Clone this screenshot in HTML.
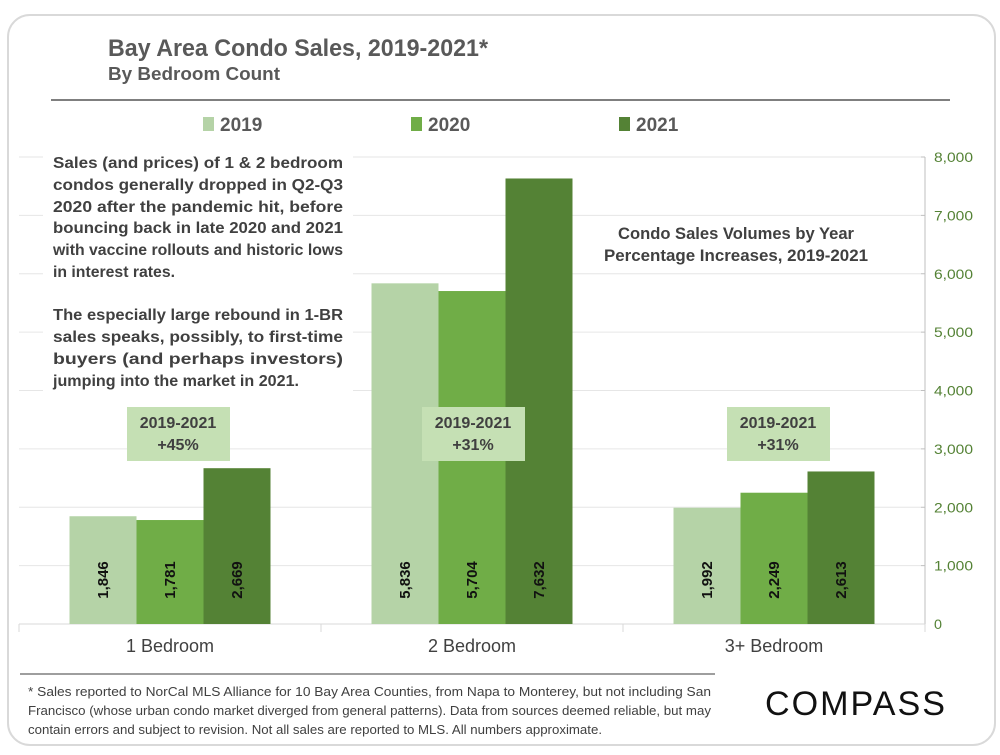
<!DOCTYPE html>
<html><head><meta charset="utf-8"><style>
body{margin:0;background:#fff;width:1000px;height:750px;overflow:hidden;font-family:"Liberation Sans",sans-serif}
</style></head><body>
<svg id="chart" width="1000" height="750" xmlns="http://www.w3.org/2000/svg" font-family="Liberation Sans, sans-serif">
<rect x="8" y="15" width="987" height="730" rx="22" fill="#fff" stroke="#d9d9d9" stroke-width="2"/>
<text x="108" y="56" font-size="24" font-weight="bold" fill="#595959" textLength="380" lengthAdjust="spacingAndGlyphs">Bay Area Condo Sales, 2019-2021*</text>
<text x="108" y="80" font-size="18" font-weight="bold" fill="#595959" textLength="172" lengthAdjust="spacingAndGlyphs">By Bedroom Count</text>
<line x1="51" y1="100" x2="950" y2="100" stroke="#7f7f7f" stroke-width="2"/>
<g id="legend"></g>
<g id="grid"></g>
<rect x="43" y="152" width="310" height="240" fill="#fff"/>
<g id="bars"></g>
<g id="notes" font-weight="bold" fill="#404040" font-size="16"></g>
<g id="boxes"></g>
<text x="736" y="239" font-size="17" font-weight="bold" fill="#404040" text-anchor="middle" textLength="236" lengthAdjust="spacingAndGlyphs">Condo Sales Volumes by Year</text>
<text x="736" y="261" font-size="17" font-weight="bold" fill="#404040" text-anchor="middle" textLength="264" lengthAdjust="spacingAndGlyphs">Percentage Increases, 2019-2021</text>
<line x1="20" y1="674" x2="715" y2="674" stroke="#7f7f7f" stroke-width="1.5"/>
<g font-size="13" fill="#404040">
<text x="28" y="696" textLength="683" lengthAdjust="spacingAndGlyphs">* Sales reported to NorCal MLS Alliance for 10 Bay Area Counties, from Napa to Monterey, but not including San</text>
<text x="28" y="715" textLength="683" lengthAdjust="spacingAndGlyphs">Francisco (whose urban condo market diverged from general patterns). Data from sources deemed reliable, but may</text>
<text x="28" y="734" textLength="574" lengthAdjust="spacingAndGlyphs">contain errors and subject to revision.  Not all sales are reported to MLS. All numbers approximate.</text>
</g>
<text x="765" y="715" font-size="34" fill="#111" textLength="182" lengthAdjust="spacingAndGlyphs" letter-spacing="2">COMPASS</text>
</svg>
<script>
const categories=["1 Bedroom","2 Bedroom","3+ Bedroom"];
const seriesNames=["2019","2020","2021"];
const values2019=[1846,5836,1992];
const values2020=[1781,5704,2249];
const values2021=[2669,7632,2613];
const increaseLabels=["+45%","+31%","+31%"];
const yTicks=[0,1000,2000,3000,4000,5000,6000,7000,8000];
const colors=["#b5d3a7","#70ad47","#548235"];
const NS="http://www.w3.org/2000/svg";
const svg=document.getElementById('chart');
const X0=19,X1=925,Y0=624,Y8=157,YMAX=8000;
const yS=v=>Y0-(v/YMAX)*(Y0-Y8);
const catW=(X1-X0)/categories.length;
const catC=i=>X0+catW*(i+0.5);
const barW=67;
function mk(tag,attrs,parent){const e=document.createElementNS(NS,tag);for(const k in attrs)e.setAttribute(k,attrs[k]);(parent||svg).appendChild(e);return e;}
const grid=document.getElementById('grid');
yTicks.forEach(t=>{
  if(t>0){const g=mk('line',{x1:X0,x2:X1-4,y1:yS(t),y2:yS(t),stroke:'#e6e6e6','stroke-width':1},grid);
  
  }
  const tk=mk('line',{x1:X1-4,x2:X1,y1:yS(t),y2:yS(t),stroke:'#bfbfbf'},grid);
  
  
  const lb=mk('text',{x:X1+9,y:yS(t)+5,'font-size':14,fill:'#548235',textLength:t>0?39:8,lengthAdjust:'spacingAndGlyphs'},grid);
  
  
  lb.textContent=t.toLocaleString('en-US');
});
const ax=mk('line',{x1:X1,x2:X1,y1:Y8,y2:Y0,stroke:'#bfbfbf'},grid);


const xa=mk('line',{x1:X0,x2:X1,y1:Y0,y2:Y0,stroke:'#d9d9d9'},grid);


for(let i=0;i<=categories.length;i++){
  const s=mk('line',{x1:X0+catW*i,x2:X0+catW*i,y1:Y0,y2:Y0+8,stroke:'#d9d9d9'},grid);
  
  
}
const bars=document.getElementById('bars');
const all=[values2019,values2020,values2021];
categories.forEach((c,i)=>{
  all.forEach((vals,s)=>{
    const x=catC(i)+(s-1.5)*barW;
    const r=mk('rect',{x:x,y:yS(vals[i]),width:barW,height:Y0-yS(vals[i]),fill:colors[s]},bars);
    
    
    const t=mk('text',{x:0,y:0,'font-size':15,'font-weight':'bold',fill:'#111','text-anchor':'middle',transform:`translate(${x+barW/2+5},580) rotate(-90)`},bars);
    
    
    t.textContent=vals[i].toLocaleString('en-US');
  });
  const cl=mk('text',{x:catC(i),y:652,'font-size':18,fill:'#404040','text-anchor':'middle'},bars);
  
  
  cl.textContent=c;
});
const boxes=document.getElementById('boxes');
categories.forEach((c,i)=>{
  const bx=[178,473,778][i];
  const r=mk('rect',{x:bx-51,y:407,width:103,height:54,fill:'#c5e0b4'},boxes);
  
  
  const t1=mk('text',{x:bx,y:428,'font-size':16,'font-weight':'bold',fill:'#404040','text-anchor':'middle'},boxes);
  
  
  t1.textContent='2019-2021';
  const t2=mk('text',{x:bx,y:450,'font-size':16,'font-weight':'bold',fill:'#404040','text-anchor':'middle'},boxes);
  
  
  t2.textContent=increaseLabels[i];
});
const legend=document.getElementById('legend');
[203,411,619].forEach((lx,s)=>{
  const r=mk('rect',{x:lx,y:117,width:11,height:14,fill:colors[s]},legend);
  
  
  const t=mk('text',{x:lx+17,y:131,'font-size':19,'font-weight':'bold',fill:'#595959'},legend);
  
  
  t.textContent=seriesNames[s];
});
const notes=document.getElementById('notes');
const lines=[["Sales (and prices) of 1 & 2 bedroom",168,290],["condos generally dropped in Q2-Q3",190,290],["2020 after the pandemic hit, before",212,290],["bouncing back in late 2020 and 2021",233,290],["with vaccine rollouts and historic lows",255,290],["in interest rates.",277,122],
["The especially large rebound in 1-BR",320,290],["sales speaks, possibly, to first-time",342,290],["buyers (and perhaps investors)",364,290],["jumping into the market in 2021.",386,246]];
lines.forEach(l=>{
  const t=mk('text',{x:53,y:l[1],textLength:l[2],lengthAdjust:'spacingAndGlyphs'},notes);
  
  
  t.textContent=l[0];
});
</script>
</body></html>
